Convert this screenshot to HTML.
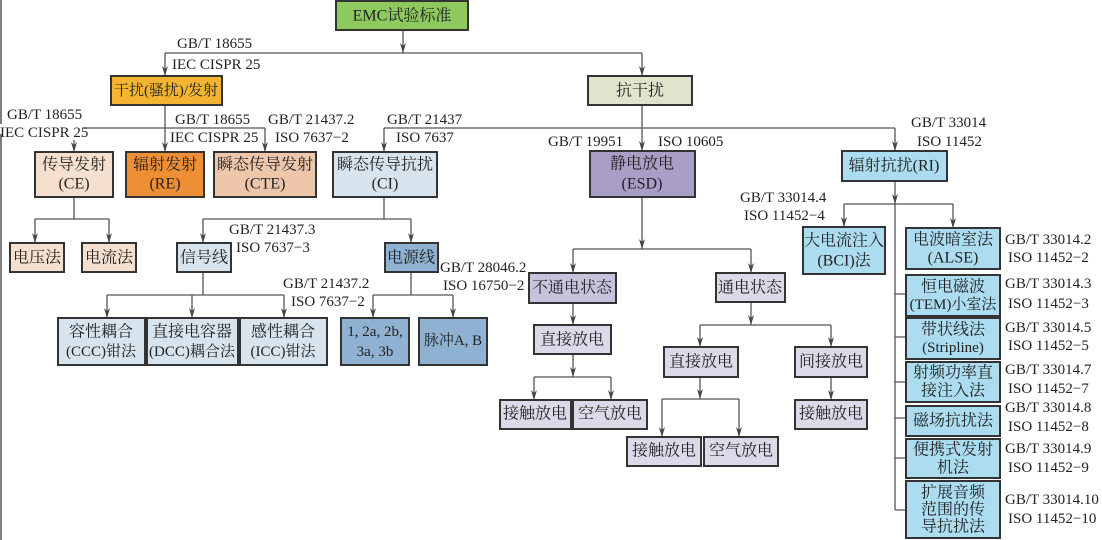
<!DOCTYPE html>
<html><head><meta charset="utf-8"><style>
html,body{margin:0;padding:0;background:#fff;}
svg{display:block;font-family:"Liberation Serif","Noto Serif CJK SC",serif;}
.b{stroke:#333;stroke-width:2;}
.l{stroke:#555;stroke-width:1.3;fill:none;}
text{font-size:15px;fill:#222;}
.c text{font-size:16px;}
.c text.s{font-size:15px;}
.c{text-anchor:middle;dominant-baseline:central;}
.t{dominant-baseline:central;}
</style></head><body>
<svg width="1102" height="540" viewBox="0 0 1102 540" xmlns="http://www.w3.org/2000/svg">
<defs><marker id="a" markerWidth="10" markerHeight="6" refX="10" refY="3" orient="auto" markerUnits="userSpaceOnUse" viewBox="0 0 10 6"><path d="M0,0 L10,3 L0,6 L3,3 Z" fill="#444"/></marker></defs>
<line x1="1" y1="0" x2="1" y2="540" stroke="#555" stroke-width="1.5"/>

<g class="l">
<path d="M403,30 V53" marker-end="url(#a)"/>
<path d="M165,53 H642"/>
<path d="M165,53 V76" marker-end="url(#a)"/>
<path d="M642,53 V76" marker-end="url(#a)"/>
<path d="M165,105 V152" marker-end="url(#a)"/>
<path d="M84,128 H265"/>
<path d="M74,140 V152" marker-end="url(#a)"/>
<path d="M265,128 V152" marker-end="url(#a)"/>
<path d="M384,128 H895"/>
<path d="M384,128 V152" marker-end="url(#a)"/>
<path d="M895,128 V151" marker-end="url(#a)"/>
<path d="M642,105 V151" marker-end="url(#a)"/>
<path d="M74,197 V219 M35,219 H109"/>
<path d="M35,219 V243" marker-end="url(#a)"/>
<path d="M109,219 V243" marker-end="url(#a)"/>
<path d="M384,197 V219 M203,219 H411"/>
<path d="M203,219 V243" marker-end="url(#a)"/>
<path d="M411,219 V243" marker-end="url(#a)"/>
<path d="M203,272 V295 M107,295 H284"/>
<path d="M107,295 V318" marker-end="url(#a)"/>
<path d="M192,295 V318" marker-end="url(#a)"/>
<path d="M284,295 V318" marker-end="url(#a)"/>
<path d="M411,272 V295 M373,295 H453"/>
<path d="M373,295 V318" marker-end="url(#a)"/>
<path d="M453,295 V318" marker-end="url(#a)"/>
<path d="M642,197 V249" marker-end="url(#a)"/>
<path d="M573,249 H751"/>
<path d="M573,249 V273" marker-end="url(#a)"/>
<path d="M751,249 V273" marker-end="url(#a)"/>
<path d="M573,303 V325" marker-end="url(#a)"/>
<path d="M573,354 V377" marker-end="url(#a)"/>
<path d="M534,377 H611"/>
<path d="M534,377 V400" marker-end="url(#a)"/>
<path d="M611,377 V400" marker-end="url(#a)"/>
<path d="M751,302 V325" marker-end="url(#a)"/>
<path d="M700,325 H831"/>
<path d="M700,325 V347" marker-end="url(#a)"/>
<path d="M831,325 V347" marker-end="url(#a)"/>
<path d="M700,377 V399" marker-end="url(#a)"/>
<path d="M662,399 H739"/>
<path d="M662,399 V437" marker-end="url(#a)"/>
<path d="M739,399 V437" marker-end="url(#a)"/>
<path d="M831,377 V400" marker-end="url(#a)"/>
<path d="M895,181 V204" marker-end="url(#a)"/>
<path d="M844,204 H953"/>
<path d="M844,204 V227" marker-end="url(#a)"/>
<path d="M953,204 V228" marker-end="url(#a)"/>
<path d="M895,204 V510"/>
<path d="M895,294 H906 M895,337 H906 M895,382 H906 M895,418 H906 M895,458 H906 M895,510 H906"/>
</g>

<g class="b">
<rect x="336" y="1" width="132" height="29" fill="#8dc95f"/>
<rect x="111" y="76" width="111" height="29" fill="#f2b431"/>
<rect x="588" y="76" width="104" height="29" fill="#dfe4cd"/>
<rect x="35" y="152" width="78" height="45" fill="#f5e0cf"/>
<rect x="126" y="152" width="78" height="45" fill="#ef8f35"/>
<rect x="214" y="152" width="102" height="45" fill="#eec7ab"/>
<rect x="333" y="152" width="104" height="45" fill="#d8e4ed"/>
<rect x="590" y="151" width="105" height="46" fill="#a99ec6"/>
<rect x="842" y="151" width="105" height="30" fill="#abdcf0"/>
<rect x="10" y="243" width="54" height="29" fill="#f5e0cf"/>
<rect x="82" y="243" width="54" height="29" fill="#f5e0cf"/>
<rect x="177" y="243" width="54" height="29" fill="#d8e4ed"/>
<rect x="385" y="243" width="53" height="29" fill="#8fb2d2"/>
<rect x="58" y="318" width="87" height="47" fill="#d8e4ed"/>
<rect x="147" y="318" width="91" height="47" fill="#d8e4ed"/>
<rect x="240" y="318" width="87" height="47" fill="#d8e4ed"/>
<rect x="341" y="318" width="68" height="47" fill="#8fb2d2"/>
<rect x="419" y="318" width="68" height="47" fill="#8fb2d2"/>
<rect x="529" y="273" width="87" height="30" fill="#c9c2dd"/>
<rect x="716" y="273" width="69" height="29" fill="#dcdae8"/>
<rect x="534" y="325" width="77" height="29" fill="#dcdae8"/>
<rect x="500" y="400" width="71" height="29" fill="#dcdae8"/>
<rect x="573" y="400" width="74" height="29" fill="#dcdae8"/>
<rect x="664" y="347" width="74" height="30" fill="#dcdae8"/>
<rect x="795" y="347" width="72" height="30" fill="#dcdae8"/>
<rect x="627" y="437" width="74" height="29" fill="#dcdae8"/>
<rect x="704" y="437" width="74" height="29" fill="#dcdae8"/>
<rect x="795" y="400" width="72" height="29" fill="#dcdae8"/>
<rect x="803" y="227" width="82" height="47" fill="#abdcf0"/>
<rect x="906" y="228" width="94" height="41" fill="#abdcf0"/>
<rect x="906" y="275" width="94" height="41" fill="#abdcf0"/>
<rect x="906" y="318" width="94" height="41" fill="#abdcf0"/>
<rect x="906" y="362" width="94" height="40" fill="#abdcf0"/>
<rect x="906" y="406" width="94" height="30" fill="#abdcf0"/>
<rect x="906" y="439" width="94" height="39" fill="#abdcf0"/>
<rect x="906" y="481" width="94" height="57" fill="#abdcf0"/>
</g>

<g class="c">
<text x="402" y="16">EMC试验标准</text>
<text x="166" y="91" class="s" textLength="104" lengthAdjust="spacingAndGlyphs">干扰(骚扰)/发射</text>
<text x="640" y="91">抗干扰</text>
<text x="74" y="165">传导发射</text><text x="74" y="184">(CE)</text>
<text x="165" y="165">辐射发射</text><text x="165" y="184">(RE)</text>
<text x="265" y="165">瞬态传导发射</text><text x="265" y="184">(CTE)</text>
<text x="385" y="165">瞬态传导抗扰</text><text x="385" y="184">(CI)</text>
<text x="642" y="164">静电放电</text><text x="642" y="184">(ESD)</text>
<text x="894" y="166">辐射抗扰(RI)</text>
<text x="37" y="258">电压法</text>
<text x="109" y="258">电流法</text>
<text x="204" y="258">信号线</text>
<text x="411" y="258">电源线</text>
<text x="101" y="332">容性耦合</text><text x="101" y="352" class="s">(CCC)钳法</text>
<text x="192" y="332">直接电容器</text><text x="192" y="352" class="s" textLength="86" lengthAdjust="spacingAndGlyphs">(DCC)耦合法</text>
<text x="283" y="332">感性耦合</text><text x="283" y="352" class="s">(ICC)钳法</text>
<text x="375" y="332" class="s">1, 2a, 2b,</text><text x="375" y="352" class="s">3a, 3b</text>
<text x="453" y="341" class="s">脉冲A, B</text>
<text x="572" y="288">不通电状态</text>
<text x="750" y="288">通电状态</text>
<text x="572" y="340">直接放电</text>
<text x="535" y="414">接触放电</text>
<text x="610" y="414">空气放电</text>
<text x="701" y="362">直接放电</text>
<text x="831" y="362">间接放电</text>
<text x="664" y="451">接触放电</text>
<text x="741" y="451">空气放电</text>
<text x="831" y="414">接触放电</text>
<text x="844" y="241">大电流注入</text><text x="844" y="261">(BCI)法</text>
<text x="953" y="240">电波暗室法</text><text x="953" y="258">(ALSE)</text>
<text x="953" y="287">恒电磁波</text><text x="953" y="305" class="s">(TEM)小室法</text>
<text x="953" y="330">带状线法</text><text x="953" y="348" class="s">(Stripline)</text>
<text x="953" y="373">射频功率直</text><text x="953" y="391">接注入法</text>
<text x="953" y="421">磁场抗扰法</text>
<text x="953" y="450">便携式发射</text><text x="953" y="468">机法</text>
<text x="953" y="493">扩展音频</text><text x="953" y="510">范围的传</text><text x="953" y="527">导抗扰法</text>
</g>

<g class="t">
<text x="177" y="44">GB/T 18655</text>
<text x="172" y="65">IEC CISPR 25</text>
<text x="7" y="115">GB/T 18655</text>
<rect x="0" y="124" width="84" height="10" fill="#fff"/>
<text x="0" y="133">IEC CISPR 25</text>
<text x="175" y="120">GB/T 18655</text>
<text x="170" y="138">IEC CISPR 25</text>
<text x="268" y="120">GB/T 21437.2</text>
<text x="275" y="138">ISO 7637−2</text>
<text x="387" y="120">GB/T 21437</text>
<text x="396" y="138">ISO 7637</text>
<text x="548" y="142">GB/T 19951</text>
<text x="658" y="142">ISO 10605</text>
<text x="911" y="123">GB/T 33014</text>
<text x="917" y="142">ISO 11452</text>
<text x="740" y="198">GB/T 33014.4</text>
<text x="744" y="216">ISO 11452−4</text>
<text x="229" y="230">GB/T 21437.3</text>
<text x="236" y="248">ISO 7637−3</text>
<text x="440" y="268">GB/T 28046.2</text>
<text x="443" y="286">ISO 16750−2</text>
<text x="283" y="284">GB/T 21437.2</text>
<text x="291" y="302">ISO 7637−2</text>
<text x="1005" y="240">GB/T 33014.2</text><text x="1008" y="258">ISO 11452−2</text>
<text x="1005" y="284">GB/T 33014.3</text><text x="1008" y="304">ISO 11452−3</text>
<text x="1005" y="328">GB/T 33014.5</text><text x="1008" y="346">ISO 11452−5</text>
<text x="1005" y="370">GB/T 33014.7</text><text x="1008" y="389">ISO 11452−7</text>
<text x="1005" y="408">GB/T 33014.8</text><text x="1008" y="427">ISO 11452−8</text>
<text x="1005" y="449">GB/T 33014.9</text><text x="1008" y="468">ISO 11452−9</text>
<text x="1005" y="500">GB/T 33014.10</text><text x="1008" y="519">ISO 11452−10</text>
</g>
</svg>
</body></html>
